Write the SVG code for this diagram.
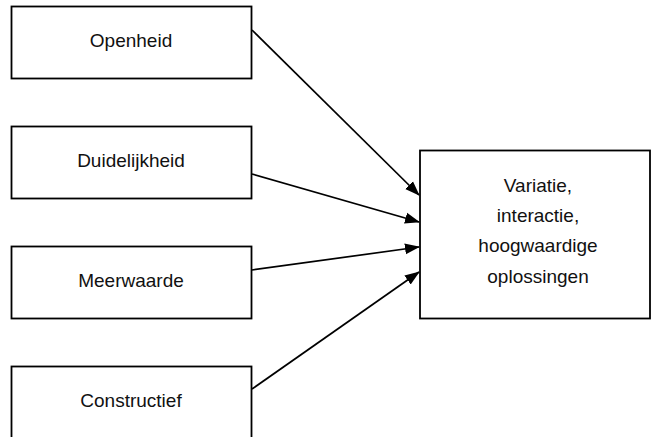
<svg xmlns="http://www.w3.org/2000/svg" width="651" height="437" viewBox="0 0 651 437">
<style>
.box{fill:#fff;stroke:#000;stroke-width:1.8}
.t{font-family:"Liberation Sans",Arial,sans-serif;font-size:19px;fill:#111;text-anchor:middle}
.c{stroke:#000;stroke-width:1.7;fill:none;marker-end:url(#ah)}
</style>
<defs>
<marker id="ah" markerWidth="15" markerHeight="12" refX="14" refY="5.5" orient="auto" markerUnits="userSpaceOnUse" viewBox="0 0 15 11">
<path d="M0,0 L15,5.5 L0,11 Z" fill="#000"/>
</marker>
</defs>
<g id="openheid"><rect class="box" x="11.5" y="6.5" width="240" height="72"/><text class="t" x="131" y="47">Openheid</text></g>
<g id="duidelijkheid"><rect class="box" x="11.5" y="126.5" width="240" height="72"/><text class="t" x="131" y="167">Duidelijkheid</text></g>
<g id="meerwaarde"><rect class="box" x="11.5" y="246.5" width="240" height="72"/><text class="t" x="131" y="287">Meerwaarde</text></g>
<g id="constructief"><rect class="box" x="11.5" y="366.5" width="240" height="74"/><text class="t" x="131" y="407">Constructief</text></g>
<g id="resultaat"><rect class="box" x="420" y="150.5" width="230" height="168"/>
<text class="t" x="538" y="192">Variatie,</text>
<text class="t" x="538" y="222">interactie,</text>
<text class="t" x="538" y="252">hoogwaardige</text>
<text class="t" x="538" y="283">oplossingen</text></g>
<g id="connectors">
<line class="c" x1="252" y1="30" x2="419" y2="195"/>
<line class="c" x1="252" y1="174" x2="419" y2="222"/>
<line class="c" x1="252" y1="270" x2="419" y2="247"/>
<line class="c" x1="252" y1="389" x2="419" y2="272"/>
</g>
</svg>
